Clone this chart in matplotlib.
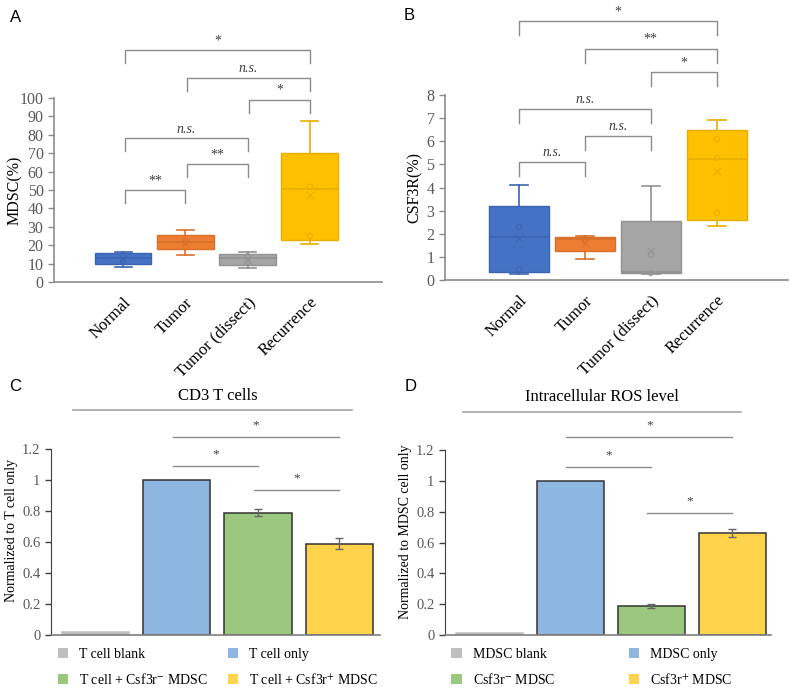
import matplotlib.pyplot as plt
from matplotlib.patches import Patch

plt.rcParams['font.family'] = ['Liberation Serif', 'DejaVu Serif']
plt.rcParams['mathtext.fontset'] = 'stix'

# --- Data ---
groups = ['Normal', 'Tumor', 'Tumor (dissect)', 'Recurrence']

# panel A: MDSC(%)
mdsc_q1 = [9.8, 17.8, 9.2, 22.8]
mdsc_med = [13.0, 21.7, 13.0, 50.3]
mdsc_q3 = [15.6, 25.3, 15.2, 70.0]
mdsc_lo = [8.2, 14.7, 7.6, 20.5]
mdsc_hi = [16.2, 28.2, 16.4, 87.3]
mdsc_mean = [12.3, 21.2, 12.2, 47.3]
mdsc_pts = [[14.3, 11.5], [22.5, 21.5], [14.0, 11.0], [51.8, 25.0]]

# panel B: CSF3R(%)
csf_q1 = [0.36, 1.26, 0.30, 2.60]
csf_med = [1.85, 1.78, 0.36, 5.25]
csf_q3 = [3.20, 1.87, 2.56, 6.50]
csf_lo = [0.26, 0.90, 0.27, 2.33]
csf_hi = [4.12, 1.92, 4.08, 6.92]
csf_mean = [1.80, 1.60, 1.27, 4.70]
csf_pts = [[2.30, 0.46], [1.80, 1.70], [1.10, 0.30], [6.10, 5.27, 2.90]]

# significance: (group i, group j, label)
sig_a = [(0, 1, '**'), (1, 2, '**'), (0, 2, 'n.s.'), (2, 3, '*'), (1, 3, 'n.s.'), (0, 3, '*')]
sig_b = [(0, 1, 'n.s.'), (1, 2, 'n.s.'), (0, 2, 'n.s.'), (2, 3, '*'), (1, 3, '**'), (0, 3, '*')]

# panel C: CD3 T cells
c_labels = ['T cell blank', 'T cell only', 'T cell + Csf3r$^{-}$ MDSC', 'T cell + Csf3r$^{+}$ MDSC']
c_vals = [0.02, 1.0, 0.79, 0.59]
c_err = [0, 0, 0.025, 0.035]

# panel D: intracellular ROS
d_labels = ['MDSC blank', 'MDSC only', 'Csf3r$^{-}$ MDSC', 'Csf3r$^{+}$ MDSC']
d_vals = [0.015, 1.0, 0.19, 0.66]
d_err = [0, 0, 0.012, 0.025]

sig_c = [(1, 2, '*'), (1, 3, '*'), (2, 3, '*')]
sig_d = [(1, 2, '*'), (1, 3, '*'), (2, 3, '*')]

# --- Styles ---
box_face = ['#4472C4', '#ED7D31', '#A5A5A5', '#FFC000']
box_edge = ['#3B65B3', '#D9702A', '#929292', '#E8AE00']
bar_face = ['#BFBFBF', '#8DB6E1', '#9BC77F', '#FFD44C']
grey_txt = '#595959'
line_c = '#8C8C8C'

fig = plt.figure(figsize=(7.97, 6.90), dpi=100)
axA = fig.add_axes([0.0678, 0.5913, 0.4115, 0.2667])
axB = fig.add_axes([0.5583, 0.5942, 0.4304, 0.2681])
axC = fig.add_axes([0.0640, 0.0797, 0.4128, 0.2696])
axD = fig.add_axes([0.5583, 0.0797, 0.4090, 0.2680])


def box_panel(ax, q1, med, q3, lo, hi, mean, pts, ylim, ylabel, xlim):
    stats = []
    for i in range(len(groups)):
        stats.append({'q1': q1[i], 'med': med[i], 'q3': q3[i],
                      'whislo': lo[i], 'whishi': hi[i], 'fliers': []})
    pos = list(range(len(groups)))
    bp = ax.bxp(stats, positions=pos, widths=0.91, patch_artist=True,
                showfliers=False, capwidths=0.27)
    for i in range(len(groups)):
        bp['boxes'][i].set(facecolor=box_face[i], edgecolor=box_edge[i], linewidth=1)
        bp['medians'][i].set(color=box_edge[i], linewidth=1.2)
        for k in (2 * i, 2 * i + 1):
            bp['whiskers'][k].set(color=box_edge[i], linewidth=1.2)
            bp['caps'][k].set(color=box_edge[i], linewidth=1.2)
        ax.scatter([pos[i]], [mean[i]], marker='x', s=30, color=box_edge[i],
                   linewidths=0.9, zorder=4, alpha=0.8)
        ax.scatter([pos[i]] * len(pts[i]), pts[i], marker='o', s=14,
                   facecolors='none', edgecolors=box_edge[i], linewidths=0.8,
                   zorder=4, alpha=0.8)
    ax.set_ylim(*ylim)
    ax.set_xlim(*xlim)
    ax.set_xticks(pos)
    ax.set_xticklabels(groups, rotation=45, ha='right', va='top',
                       rotation_mode='anchor', fontsize=12)
    ax.tick_params(axis='x', length=0, pad=9)
    ax.tick_params(axis='y', labelsize=11.5, labelcolor=grey_txt, color='#8C8C8C',
                   length=4, width=1)
    for s in ('top', 'right'):
        ax.spines[s].set_visible(False)
    for s in ('left', 'bottom'):
        ax.spines[s].set_color('#8C8C8C')
        ax.spines[s].set_linewidth(1.2)
    ax.set_ylabel(ylabel, fontsize=11.5)


def bracket(ax, x1, x2, y, h, label):
    ax.plot([x1, x1, x2, x2], [y - h, y, y, y - h], color=line_c, lw=1, clip_on=False)
    style = 'italic' if label == 'n.s.' else 'normal'
    ax.annotate(label, ((x1 + x2) / 2, y), xytext=(0, 2), textcoords='offset points',
                ha='center', va='bottom', fontsize=10, style=style, color='#404040',
                annotation_clip=False)


# --- Panel A ---
box_panel(axA, mdsc_q1, mdsc_med, mdsc_q3, mdsc_lo, mdsc_hi, mdsc_mean, mdsc_pts,
          (0, 100), 'MDSC(%)', (-1.11, 4.16))
axA.set_yticks(range(0, 101, 10))
axA.yaxis.set_label_coords(-0.095, 0.5)
a_heights = [50, 64, 78, 99, 111, 126]
for (i, j, lab), y in zip(sig_a, a_heights):
    bracket(axA, i + 0.03, j, y, 7, lab)

# --- Panel B ---
box_panel(axB, csf_q1, csf_med, csf_q3, csf_lo, csf_hi, csf_mean, csf_pts,
          (0, 8), 'CSF3R(%)', (-1.12, 4.08))
axB.set_yticks(range(0, 9))
axB.yaxis.set_label_coords(-0.065, 0.5)
b_heights = [5.1, 6.23, 7.4, 9.0, 10.0, 11.2]
for (i, j, lab), y in zip(sig_b, b_heights):
    bracket(axB, i, j, y, 0.6, lab)


# --- Panels C, D ---
def bar_panel(ax, labels, vals, err, title, ylabel, xlim, sig, sig_y, top_span, title_x, col_space):
    pos = list(range(len(vals)))
    edges = ['#BFBFBF', '#333333', '#333333', '#333333']
    ax.bar(pos, vals, width=0.83, color=bar_face, edgecolor=edges, linewidth=1.1, zorder=2)
    ax.errorbar(pos[2:], vals[2:], yerr=err[2:], fmt='none', ecolor='#666666',
                elinewidth=1, capsize=3, capthick=1, zorder=3)
    ax.set_xlim(*xlim)
    ax.set_ylim(0, 1.2)
    ax.set_yticks([0, 0.2, 0.4, 0.6, 0.8, 1.0, 1.2])
    ax.set_yticklabels(['0', '0.2', '0.4', '0.6', '0.8', '1', '1.2'])
    ax.set_xticks([])
    ax.tick_params(axis='y', labelsize=10.5, labelcolor=grey_txt, color='#404040',
                   length=4, width=1)
    for s in ('top', 'right'):
        ax.spines[s].set_visible(False)
    ax.spines['left'].set_color('#404040')
    ax.spines['bottom'].set_color('#7F7F7F')
    ax.spines['bottom'].set_linewidth(1.2)
    ax.set_ylabel(ylabel, fontsize=10)
    ax.yaxis.set_label_coords(-0.10, 0.56)
    # top line + title
    ax.plot(top_span, [1.45, 1.45], color='#A6A6A6', lw=1.2, clip_on=False)
    ax.text(title_x, 1.49, title, ha='center', va='bottom', fontsize=12)
    for (i, j, lab), y in zip(sig, sig_y):
        ax.plot([i - 0.05, j], [y, y], color=line_c, lw=1, clip_on=False)
        ax.annotate(lab, ((i - 0.05 + j) / 2, y), xytext=(0, 4), textcoords='offset points',
                    ha='center', va='bottom', fontsize=9.5, color='#404040',
                    annotation_clip=False)
    order = [0, 2, 1, 3]
    handles = [Patch(facecolor=bar_face[k], edgecolor='none', label=labels[k]) for k in order]
    ax.legend(handles=handles, ncol=2, loc='upper left', bbox_to_anchor=(0.02, -0.07),
              frameon=False, fontsize=10, handlelength=0.75, handleheight=0.75,
              handletextpad=0.8, columnspacing=col_space, labelspacing=0.8,
              borderaxespad=0, borderpad=0)


bar_panel(axC, c_labels, c_vals, c_err, 'CD3 T cells', 'Normalized to T cell only',
          (-0.546, 3.5), sig_c, [1.09, 1.28, 0.935], [-0.28, 3.15], 1.5, 1.4)
bar_panel(axD, d_labels, d_vals, d_err, 'Intracellular ROS level',
          'Normalized to MDSC cell only', (-0.55, 3.48), sig_d, [1.09, 1.285, 0.79],
          [-0.33, 3.11], 1.39, 5.3)

# panel letters
for lab, x, y in [('A', 0.012, 0.975), ('B', 0.506, 0.978), ('C', 0.012, 0.44), ('D', 0.508, 0.44)]:
    fig.text(x, y, lab, fontsize=12, family='Liberation Sans', va='center', ha='left')

fig.savefig('out.png', dpi=100)
